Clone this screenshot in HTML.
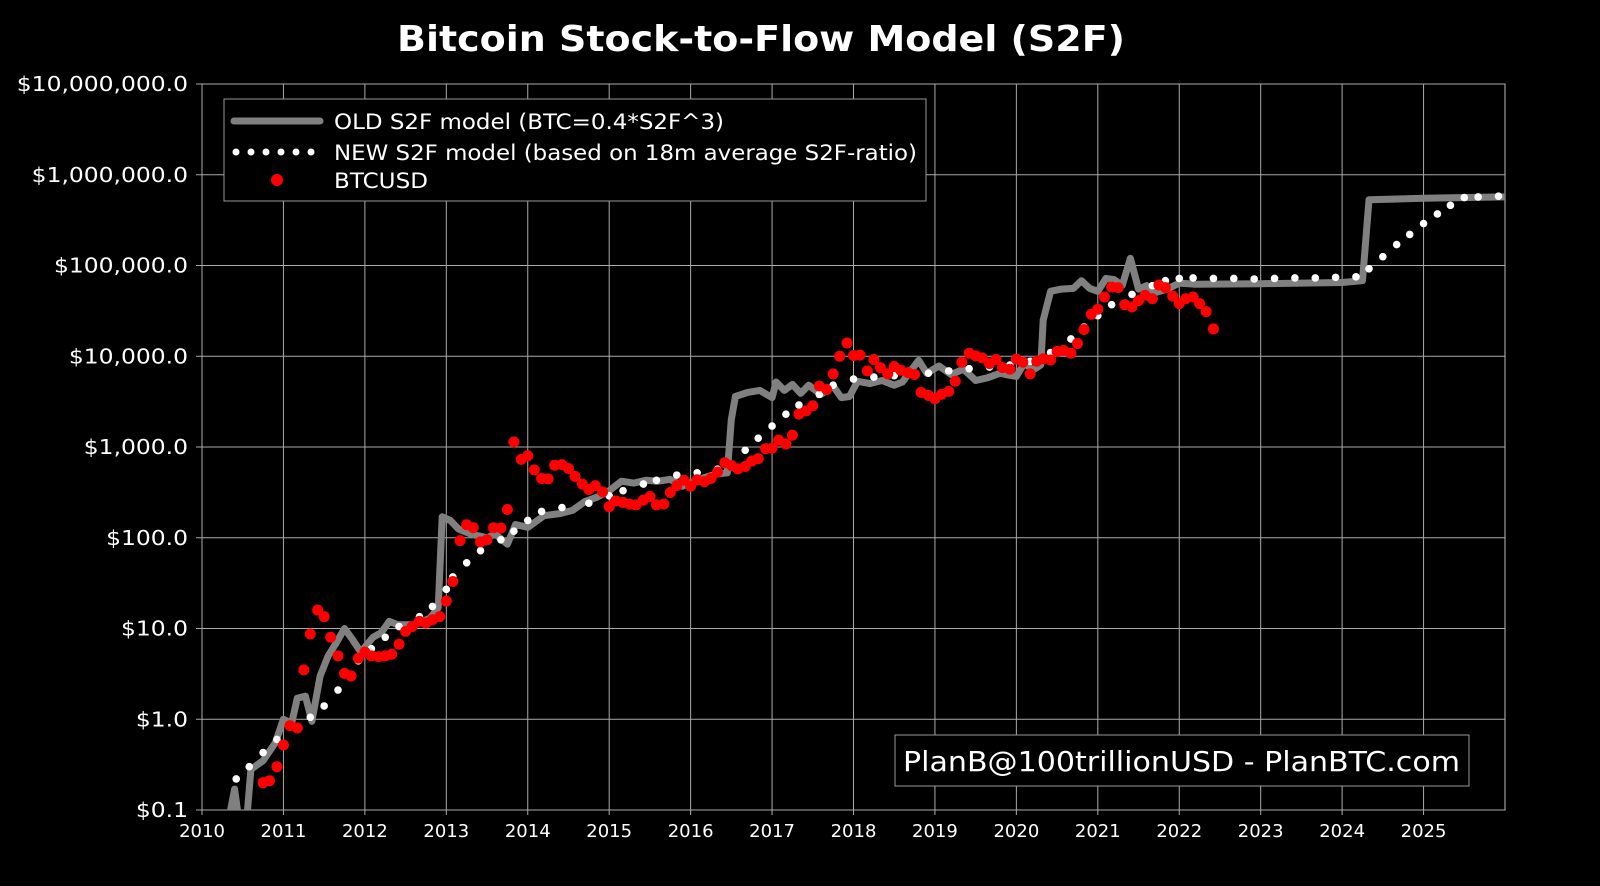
<!DOCTYPE html>
<html><head><meta charset="utf-8"><style>
html,body{margin:0;padding:0;background:#000;}
svg{display:block;font-family:"DejaVu Sans","Liberation Sans",sans-serif;}
</style></head><body>
<svg id="chart" width="1600" height="886" viewBox="0 0 1600 886">
<rect width="1600" height="886" fill="#000"/>
<text x="397" y="51" fill="#fff" font-size="36" font-weight="bold" textLength="728" lengthAdjust="spacingAndGlyphs">Bitcoin Stock-to-Flow Model (S2F)</text>
<g id="grid"></g>
<g id="axes"></g>
<g id="series"></g>
<g>
<rect x="224" y="99" width="702" height="102" fill="#000" stroke="#999" stroke-width="1"/>
<line x1="234" y1="121" x2="320" y2="121" stroke="#808080" stroke-width="7" stroke-linecap="round"/>
<text x="334" y="129" fill="#fff" font-size="21" textLength="390" lengthAdjust="spacingAndGlyphs">OLD S2F model (BTC=0.4*S2F^3)</text>
<g fill="#fff"><circle cx="236" cy="152" r="3.5"/><circle cx="251" cy="152" r="3.5"/><circle cx="266" cy="152" r="3.5"/><circle cx="281" cy="152" r="3.5"/><circle cx="296" cy="152" r="3.5"/><circle cx="311" cy="152" r="3.5"/></g>
<text x="334" y="160" fill="#fff" font-size="21" textLength="583" lengthAdjust="spacingAndGlyphs">NEW S2F model (based on 18m average S2F-ratio)</text>
<circle cx="277" cy="180" r="6" fill="#f00"/>
<text x="334" y="188" fill="#fff" font-size="21" textLength="94" lengthAdjust="spacingAndGlyphs">BTCUSD</text>
</g>
<g>
<rect x="895" y="735" width="574" height="51" fill="#000" stroke="#999"/>
<text x="903" y="771" fill="#fff" font-size="28" textLength="557" lengthAdjust="spacingAndGlyphs">PlanB@100trillionUSD - PlanBTC.com</text>
</g>
</svg>
<script>
const yearTicks=[2010,2011,2012,2013,2014,2015,2016,2017,2018,2019,2020,2021,2022,2023,2024,2025];
const priceTicks=[0.1,1,10,100,1000,10000,100000,1000000,10000000];
const priceTickLabels=["$0.1","$1.0","$10.0","$100.0","$1,000.0","$10,000.0","$100,000.0","$1,000,000.0","$10,000,000.0"];
const btcT=[2010.75,2010.83,2010.92,2011.0,2011.08,2011.17,2011.25,2011.33,2011.42,2011.5,2011.58,2011.67,2011.75,2011.83,2011.92,2012.0,2012.08,2012.17,2012.25,2012.33,2012.42,2012.5,2012.58,2012.67,2012.75,2012.83,2012.92,2013.0,2013.08,2013.17,2013.25,2013.33,2013.42,2013.5,2013.58,2013.67,2013.75,2013.83,2013.92,2014.0,2014.08,2014.17,2014.25,2014.33,2014.42,2014.5,2014.58,2014.67,2014.75,2014.83,2014.92,2015.0,2015.08,2015.17,2015.25,2015.33,2015.42,2015.5,2015.58,2015.67,2015.75,2015.83,2015.92,2016.0,2016.08,2016.17,2016.25,2016.33,2016.42,2016.5,2016.58,2016.67,2016.75,2016.83,2016.92,2017.0,2017.08,2017.17,2017.25,2017.33,2017.42,2017.5,2017.58,2017.67,2017.75,2017.83,2017.92,2018.0,2018.08,2018.17,2018.25,2018.33,2018.42,2018.5,2018.58,2018.67,2018.75,2018.83,2018.92,2019.0,2019.08,2019.17,2019.25,2019.33,2019.42,2019.5,2019.58,2019.67,2019.75,2019.83,2019.92,2020.0,2020.08,2020.17,2020.25,2020.33,2020.42,2020.5,2020.58,2020.67,2020.75,2020.83,2020.92,2021.0,2021.08,2021.17,2021.25,2021.33,2021.42,2021.5,2021.58,2021.67,2021.75,2021.83,2021.92,2022.0,2022.08,2022.17,2022.25,2022.33,2022.42];
const btcV=[0.2,0.21,0.3,0.52,0.85,0.8,3.5,8.7,16,13.5,8,5,3.2,3,4.7,5.5,5,4.9,5,5.2,6.7,9.3,10.5,12,11.5,12.5,13.5,20,33,93,139,129,90,95,129,128,205,1140,730,800,560,450,445,630,640,580,475,390,340,375,320,220,255,245,235,230,260,285,230,235,315,375,430,370,435,415,450,530,670,625,575,610,700,745,960,970,1190,1080,1350,2300,2500,2850,4700,4300,6400,10000,14000,10200,10300,6900,9200,7500,6400,7700,7000,6600,6300,4000,3700,3400,3800,4100,5300,8600,10800,10100,9600,8300,9200,7500,7200,9300,8600,6400,8800,9400,9100,11300,11600,10800,13800,19700,29000,33000,45000,58000,57000,37000,35000,41000,47000,43000,61000,57000,46000,38000,43000,45000,38000,31000,20000];
const newT=[2010.42,2010.58,2010.75,2010.92,2011.08,2011.33,2011.5,2011.67,2011.92,2012.08,2012.25,2012.42,2012.67,2012.83,2013.0,2013.08,2013.25,2013.42,2013.67,2013.83,2014.0,2014.17,2014.42,2014.75,2015.0,2015.17,2015.42,2015.58,2015.83,2016.08,2016.33,2016.67,2016.83,2017.0,2017.17,2017.33,2017.58,2017.75,2018.0,2018.25,2018.5,2018.75,2018.92,2019.17,2019.42,2019.67,2019.92,2020.17,2020.42,2020.67,2020.83,2021.0,2021.17,2021.42,2021.67,2021.83,2022.0,2022.17,2022.42,2022.67,2022.92,2023.17,2023.42,2023.67,2023.92,2024.17,2024.33,2024.5,2024.67,2024.83,2025.0,2025.17,2025.33,2025.5,2025.67,2025.92];
const newV=[0.22,0.3,0.43,0.6,0.85,1.05,1.4,2.1,4.4,6,8,10.5,13.5,17.5,27,37,53,72,95,118,155,195,215,240,290,330,390,430,490,520,570,920,1250,1700,2300,2900,3800,4800,5600,5900,6100,6300,6500,6900,7300,7600,8000,8800,11000,15500,21000,28000,37000,48000,60000,68000,72000,73000,72000,72000,71000,72000,73000,73000,74000,75000,92000,125000,170000,220000,290000,370000,460000,560000,570000,580000];
const oldT=[2010.33,2010.4,2010.45,2010.55,2010.6,2010.75,2010.9,2011.0,2011.1,2011.17,2011.27,2011.35,2011.45,2011.55,2011.65,2011.75,2011.85,2011.95,2012.1,2012.2,2012.3,2012.4,2012.6,2012.8,2012.9,2012.95,2013.05,2013.15,2013.3,2013.5,2013.6,2013.75,2013.85,2014.0,2014.2,2014.4,2014.55,2014.7,2014.85,2015.0,2015.15,2015.3,2015.45,2015.6,2015.75,2015.9,2016.1,2016.3,2016.45,2016.5,2016.55,2016.7,2016.85,2017.0,2017.05,2017.15,2017.25,2017.35,2017.45,2017.6,2017.75,2017.85,2017.95,2018.05,2018.2,2018.35,2018.5,2018.6,2018.8,2018.9,2019.05,2019.2,2019.35,2019.5,2019.65,2019.8,2019.9,2020.0,2020.1,2020.2,2020.3,2020.33,2020.42,2020.55,2020.7,2020.8,2020.9,2021.0,2021.1,2021.2,2021.3,2021.4,2021.5,2021.6,2021.7,2021.85,2022.0,2022.2,2023.0,2024.0,2024.25,2024.33,2025.0,2025.99];
const oldV=[0.08,0.17,0.08,0.08,0.28,0.35,0.55,1.0,0.9,1.7,1.8,0.95,3,5,7,10,7.5,5.5,8,9,12,11,11,13,17,170,155,125,110,100,110,85,140,130,175,185,200,250,280,330,420,400,430,420,440,370,440,500,520,2000,3600,4000,4200,3500,5200,4200,4900,3900,4800,3800,4700,3500,3600,5300,5000,5400,4800,5200,9000,6500,7800,6300,7200,5400,5800,6500,6200,6000,8500,7000,8000,25000,52000,55000,56000,68000,56000,52000,72000,70000,60000,120000,55000,60000,50000,55000,64000,62000,63000,65000,68000,530000,550000,570000];

const NS="http://www.w3.org/2000/svg";
const X0=202,X1=1505,Y0=810,Y1=84,T0=2010,T1=2026,L0=-1,L1=7;
const xs=t=>X0+(t-T0)/(T1-T0)*(X1-X0);
const ys=v=>Y0-(Math.log10(v)-L0)/(L1-L0)*(Y0-Y1);
function mk(tag,attrs,parent){const e=document.createElementNS(NS,tag);for(const k in attrs)e.setAttribute(k,attrs[k]);parent.appendChild(e);return e;}
const grid=document.getElementById('grid'),axes=document.getElementById('axes'),ser=document.getElementById('series');
mk('rect',{x:X0,y:Y1,width:X1-X0,height:Y0-Y1,fill:'none',stroke:'#bbb','stroke-width':1},grid);
yearTicks.forEach(t=>{
  const x=xs(t);
  const l=mk('line',{x1:x,y1:Y1,x2:x,y2:Y0+5,stroke:'#aaa','stroke-width':1},grid);
  
  
  const tx=mk('text',{x:x,y:Y0+27,fill:'#fff','font-size':18,'text-anchor':'middle'},axes);
  tx.textContent=t;
  
  
});
priceTicks.forEach((v,i)=>{
  const y=ys(v);
  const l=mk('line',{x1:X0-6,y1:y,x2:X1,y2:y,stroke:'#aaa','stroke-width':1},grid);
  
  
  const tx=mk('text',{x:X0-14,y:y+7,fill:'#fff','font-size':20,'text-anchor':'end'},axes);
  tx.textContent=priceTickLabels[i];
  
  
  const w=tx.getComputedTextLength();
  tx.setAttribute('textLength',(w*1.17).toFixed(1));
  tx.setAttribute('lengthAdjust','spacingAndGlyphs');
});
const clip=mk('clipPath',{id:'pc'},ser);mk('rect',{x:X0,y:Y1,width:X1-X0,height:Y0-Y1},clip);
const g=mk('g',{'clip-path':'url(#pc)'},ser);
const p=mk('polyline',{points:oldT.map((t,i)=>xs(t).toFixed(1)+','+ys(oldV[i]).toFixed(1)).join(' '),fill:'none',stroke:'#808080','stroke-width':7,'stroke-linejoin':'round'},g);


newT.forEach((t,i)=>{
  const c=mk('circle',{cx:xs(t),cy:ys(newV[i]),r:3.8,fill:'#fff'},g);
  
  
});
btcT.forEach((t,i)=>{
  const c=mk('circle',{cx:xs(t),cy:ys(btcV[i]),r:5.5,fill:'#f00'},g);
  
  
});
</script>
</body></html>
